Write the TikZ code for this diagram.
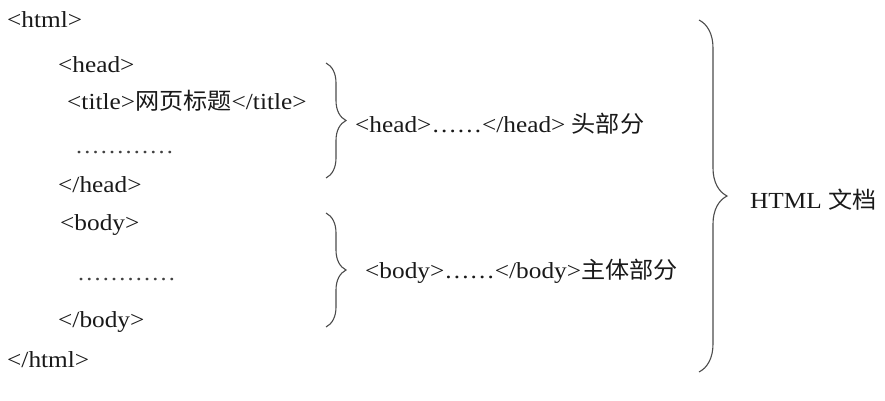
\documentclass[tikz,border=0pt]{standalone}
\usepackage{fontspec}
\setmainfont{Liberation Serif}[FakeStretch=1.1]
\newfontfamily\cjk{Noto Sans CJK SC}[FakeStretch=1.05]
\usetikzlibrary{decorations.pathreplacing}
\begin{document}
\begin{tikzpicture}[x=1pt,y=-1pt,
  code/.style={anchor=base west,inner sep=0pt,font=\fontsize{23}{27}\selectfont,text=black!90},
  bracebox/.style={decorate,decoration={brace,amplitude=#1},draw=black!70,line width=1.1pt},
  dotrow/.style={anchor=base west,inner sep=0pt,font=\fontsize{22}{26}\selectfont,text=black!75}]
\useasboundingbox (0,0) rectangle (885,401);
% left code column
\node[code] (html) at (7,28) {<html>};
\node[code] (head) at (58,73) {<head>};
\node[code] (title) at (67,110) {<title>{\cjk 网页标题}</title>};
\node[dotrow] (dots1) at (76,153) {\foreach \i in {1,...,12}{.\hspace{2.2pt}}};
\node[code] (ehead) at (58,192) {</head>};
\node[code] (body) at (60,230) {<body>};
\node[dotrow] (dots2) at (78,280) {\foreach \i in {1,...,12}{.\hspace{2.2pt}}};
\node[code] (ebody) at (58,327) {</body>};
\node[code] (ehtml) at (7,367) {</html>};
% braces
\coordinate (b1t) at (326,63);
\coordinate (b1b) at (326,178);
\coordinate (b2t) at (326,213);
\coordinate (b2b) at (326,327);
\coordinate (b3t) at (699,20);
\coordinate (b3b) at (699,372);
\draw[bracebox=20pt] (b1t) -- (b1b);
\draw[bracebox=20pt] (b2t) -- (b2b);
\draw[bracebox=28pt] (b3t) -- (b3b);
% labels
\node[code] (headlbl) at (355,132) {<head>……</head> {\cjk 头部分}};
\node[code] (bodylbl) at (365,278) {<body>……</body>{\cjk 主体部分}};
\node[code] (doclbl) at (750,208) {HTML {\cjk 文档}};
\end{tikzpicture}
\end{document}
